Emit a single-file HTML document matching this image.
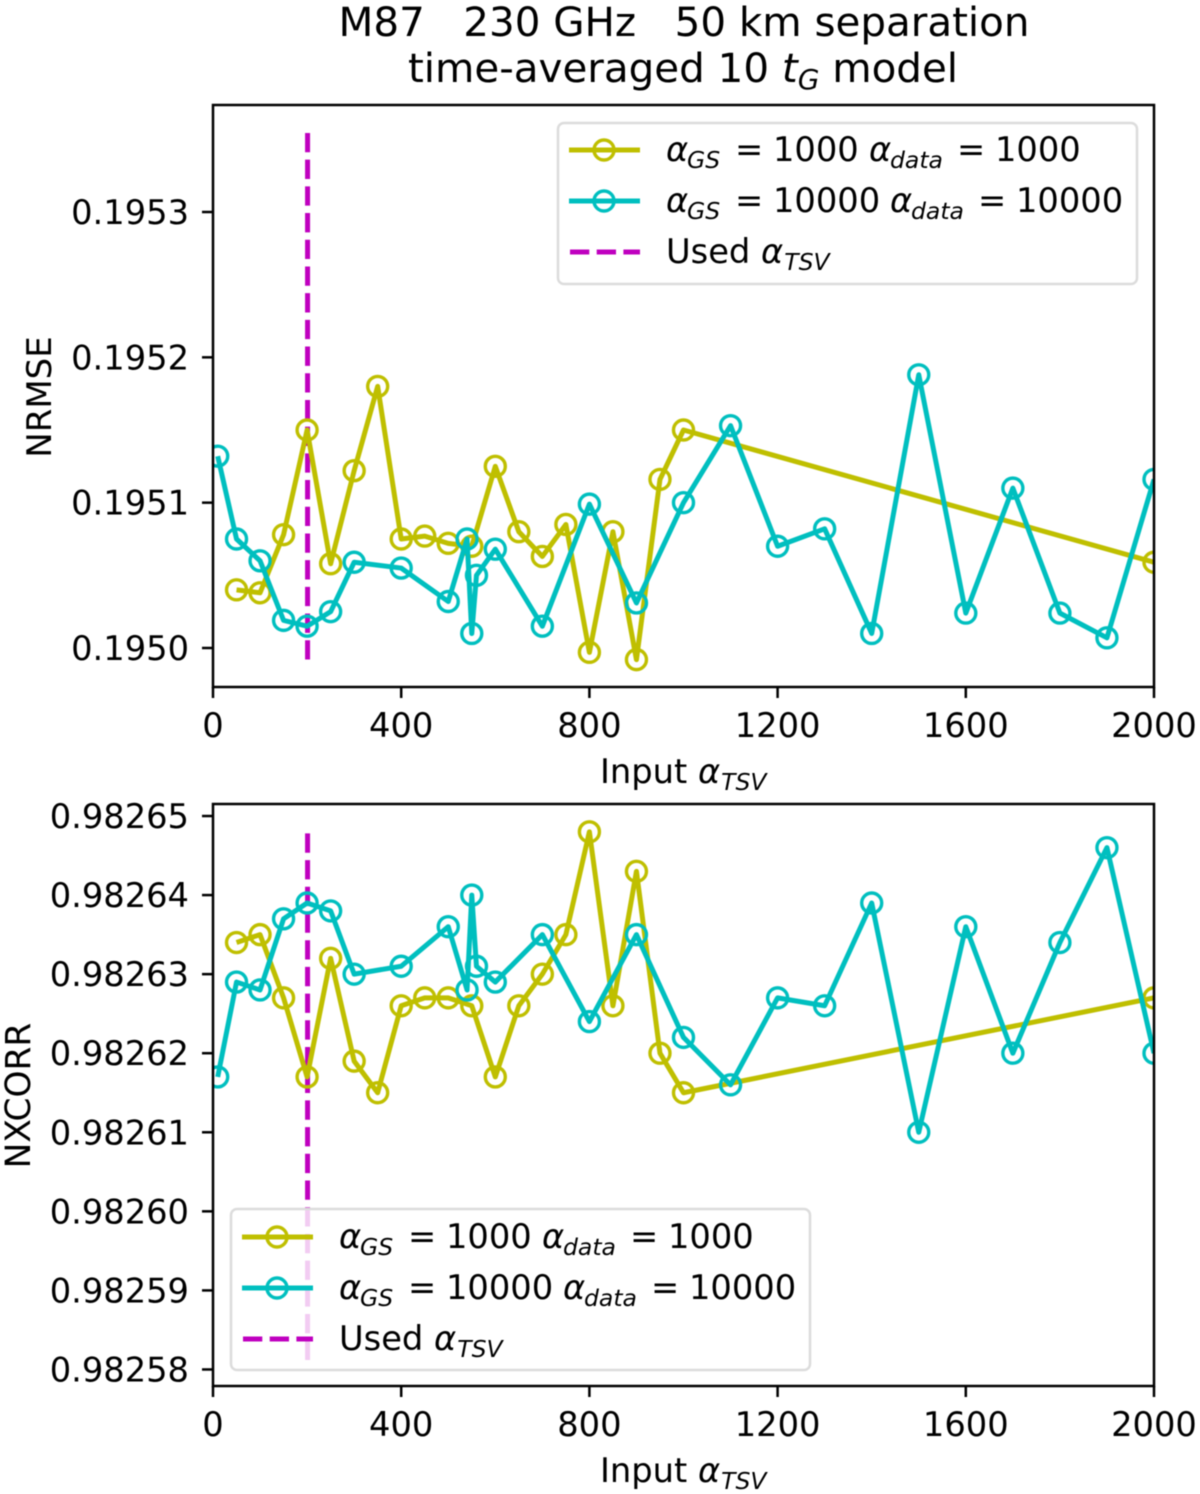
<!DOCTYPE html>
<html lang="en">
<head>
<meta charset="utf-8">
<title>M87 230 GHz time-averaged model</title>
<style>
html,body{margin:0;padding:0;background:#fff;}
svg{display:block;font-family:"DejaVu Sans",sans-serif;fill:#000;filter:blur(0.5px);}
text{white-space:pre;}
</style>
</head>
<body>
<svg id="fig" xmlns="http://www.w3.org/2000/svg" width="1200" height="1494" viewBox="0 0 1200 1494">
  <defs>
    <clipPath id="clip-top"><rect x="213" y="105" width="941" height="582"/></clipPath>
    <clipPath id="clip-bottom"><rect x="213" y="804" width="941" height="582"/></clipPath>
  </defs>
  <rect x="0" y="0" width="1200" height="1494" fill="#fff"/>
  <g font-size="40.4" text-anchor="middle">
    <text x="684" y="36">M87   230 GHz   50 km separation</text>
    <text x="683" y="82">time-averaged 10 <tspan font-style="italic">t</tspan><tspan font-style="italic" font-size="28" dy="7">G</tspan><tspan dy="-7"> model</tspan></text>
  </g>
  <g id="top-panel"></g>
  <g id="bottom-panel"></g>

  <text font-size="34" text-anchor="middle" transform="translate(51,397) rotate(-90)">NRMSE</text>
  <text font-size="34.4" text-anchor="middle" transform="translate(30,1095.5) rotate(-90)">NXCORR</text>
  <text font-size="33.7" x="600" y="783">Input <tspan font-style="italic">α</tspan><tspan font-style="italic" font-size="23.5" dy="7" dx="1">TSV</tspan></text>
  <text font-size="33.7" x="600" y="1482">Input <tspan font-style="italic">α</tspan><tspan font-style="italic" font-size="23.5" dy="7" dx="1">TSV</tspan></text>

  <g font-size="33.7">
    <rect x="558" y="123" width="579" height="161" rx="6" fill="#fff" fill-opacity="0.8" stroke="#dcdcdc" stroke-width="2.5"/>
    <g>
      <line x1="569" x2="640" y1="150" y2="150" stroke="#bfbf00" stroke-width="5"/>
      <circle cx="604" cy="150" r="10" fill="none" stroke="#bfbf00" stroke-width="3.4"/>
      <text y="161"><tspan x="666" font-style="italic">α</tspan><tspan x="687" font-style="italic" font-size="23.5" dy="7">GS</tspan><tspan x="735" dy="-7">=</tspan><tspan x="773">1000</tspan><tspan x="869" font-style="italic">α</tspan><tspan x="890" font-style="italic" font-size="23.5" dy="7">data</tspan><tspan x="957" dy="-7">=</tspan><tspan x="995">1000</tspan></text>
    </g>
    <g>
      <line x1="569" x2="640" y1="201" y2="201" stroke="#00bfbf" stroke-width="5"/>
      <circle cx="604" cy="201" r="10" fill="none" stroke="#00bfbf" stroke-width="3.4"/>
      <text y="212"><tspan x="666" font-style="italic">α</tspan><tspan x="687" font-style="italic" font-size="23.5" dy="7">GS</tspan><tspan x="735" dy="-7">=</tspan><tspan x="773">10000</tspan><tspan x="890" font-style="italic">α</tspan><tspan x="911" font-style="italic" font-size="23.5" dy="7">data</tspan><tspan x="978" dy="-7">=</tspan><tspan x="1016">10000</tspan></text>
    </g>
    <g>
      <line x1="570" x2="640" y1="252" y2="252" stroke="#bf00bf" stroke-width="5" stroke-dasharray="19.3 7.4"/>
      <text y="263"><tspan x="666">Used </tspan><tspan font-style="italic">α</tspan><tspan font-style="italic" font-size="23.5" dy="7" dx="1">TSV</tspan></text>
    </g>
  </g>

  <g id="legend-bottom-holder" font-size="33.7" transform="translate(-327,1086)">
    <rect x="558" y="123" width="579" height="161" rx="6" fill="#fff" fill-opacity="0.8" stroke="#dcdcdc" stroke-width="2.5"/>
    <g>
      <line x1="569" x2="640" y1="151" y2="151" stroke="#bfbf00" stroke-width="5"/>
      <circle cx="604" cy="151" r="10" fill="none" stroke="#bfbf00" stroke-width="3.4"/>
      <text y="162"><tspan x="666" font-style="italic">α</tspan><tspan x="687" font-style="italic" font-size="23.5" dy="7">GS</tspan><tspan x="735" dy="-7">=</tspan><tspan x="773">1000</tspan><tspan x="869" font-style="italic">α</tspan><tspan x="890" font-style="italic" font-size="23.5" dy="7">data</tspan><tspan x="957" dy="-7">=</tspan><tspan x="995">1000</tspan></text>
    </g>
    <g>
      <line x1="569" x2="640" y1="202" y2="202" stroke="#00bfbf" stroke-width="5"/>
      <circle cx="604" cy="202" r="10" fill="none" stroke="#00bfbf" stroke-width="3.4"/>
      <text y="213"><tspan x="666" font-style="italic">α</tspan><tspan x="687" font-style="italic" font-size="23.5" dy="7">GS</tspan><tspan x="735" dy="-7">=</tspan><tspan x="773">10000</tspan><tspan x="890" font-style="italic">α</tspan><tspan x="911" font-style="italic" font-size="23.5" dy="7">data</tspan><tspan x="978" dy="-7">=</tspan><tspan x="1016">10000</tspan></text>
    </g>
    <g>
      <line x1="570" x2="640" y1="253" y2="253" stroke="#bf00bf" stroke-width="5" stroke-dasharray="19.3 7.4"/>
      <text y="264"><tspan x="666">Used </tspan><tspan font-style="italic">α</tspan><tspan font-style="italic" font-size="23.5" dy="7" dx="1">TSV</tspan></text>
    </g>
  </g>
</svg>
<script>
var xLowAlpha = [50,100,150,200,250,300,350,400,450,500,550,600,650,700,750,800,850,900,950,1000,2000];
var xHighAlpha = [10,50,100,150,200,250,300,400,500,540,550,560,600,700,800,900,1000,1100,1200,1300,1400,1500,1600,1700,1800,1900,2000];
var nrmseLowAlpha = [0.19504,0.195038,0.195078,0.19515,0.195058,0.195122,0.19518,0.195075,0.195077,0.195072,0.19507,0.195125,0.19508,0.195063,0.195085,0.194997,0.19508,0.194992,0.195116,0.19515,0.195059];
var nrmseHighAlpha = [0.195132,0.195075,0.19506,0.195019,0.195015,0.195025,0.195059,0.195055,0.195032,0.195075,0.19501,0.19505,0.195068,0.195015,0.195099,0.195031,0.1951,0.195153,0.19507,0.195082,0.19501,0.195188,0.195024,0.19511,0.195024,0.195007,0.195116];
var nxcorrLowAlpha = [0.982634,0.982635,0.982627,0.982617,0.982632,0.982619,0.982615,0.982626,0.982627,0.982627,0.982626,0.982617,0.982626,0.98263,0.982635,0.982648,0.982626,0.982643,0.98262,0.982615,0.982627];
var nxcorrHighAlpha = [0.982617,0.982629,0.982628,0.982637,0.982639,0.982638,0.98263,0.982631,0.982636,0.982628,0.98264,0.982631,0.982629,0.982635,0.982624,0.982635,0.982622,0.982616,0.982627,0.982626,0.982639,0.98261,0.982636,0.98262,0.982634,0.982646,0.98262];
var xTicks = [0,400,800,1200,1600,2000];
var nrmseTicks = ["0.1950","0.1951","0.1952","0.1953"];
var nxcorrTicks = ["0.98258","0.98259","0.98260","0.98261","0.98262","0.98263","0.98264","0.98265"];
var usedAlpha = [201];
var nrmseUsedRange = [0.1949904,0.1953544];
var nxcorrUsedRange = [0.9825812,0.9826478];
var xLimits = [0,2000];
var nrmseLimits = [0.19497316,0.19537363];
var nxcorrLimits = [0.98257791,0.98265152];

var NS = 'http://www.w3.org/2000/svg';
var AXIS_LEFT = 213, AXIS_WIDTH = 941, AXIS_HEIGHT = 582;
var YELLOW = '#bfbf00', CYAN = '#00bfbf', MAGENTA = '#bf00bf';

function make(tag, parent, attrs) {
  var el = document.createElementNS(NS, tag);
  for (var k in attrs) { el.setAttribute(k, attrs[k]); }
  parent.appendChild(el);
  return el;
}
function xScale(v) {
  return AXIS_LEFT + (v - xLimits[0]) / (xLimits[1] - xLimits[0]) * AXIS_WIDTH;
}
function yScaleFor(limits, top) {
  return function (v) {
    return top + AXIS_HEIGHT - (v - limits[0]) / (limits[1] - limits[0]) * AXIS_HEIGHT;
  };
}
function drawSeries(parent, xs, ys, yScale, color, seriesName) {
  var group = make('g', parent, {});
  
  
  var pts = xs.map(function (x, i) { return xScale(x).toFixed(2) + ',' + yScale(ys[i]).toFixed(2); }).join(' ');
  var line = make('polyline', group, {points: pts, fill: 'none', stroke: color, 'stroke-width': 5, 'stroke-linejoin': 'round'});
  
  
  xs.forEach(function (x, i) {
    var c = make('circle', group, {cx: xScale(x).toFixed(2), cy: yScale(ys[i]).toFixed(2), r: 10, fill: 'none', stroke: color, 'stroke-width': 3.4});
    
    
  });
}
function drawPanel(panelId, top, clipId, limits, yTicks, lowVals, highVals, usedRange) {
  var panel = document.getElementById(panelId);
  var yScale = yScaleFor(limits, top);
  var bottom = top + AXIS_HEIGHT;
  var plot = make('g', panel, {'clip-path': 'url(#' + clipId + ')'});
  
  

  var used = make('line', plot, {x1: xScale(usedAlpha[0]), x2: xScale(usedAlpha[0]), y1: yScale(usedRange[1]), y2: yScale(usedRange[0]), stroke: MAGENTA, 'stroke-width': 5, 'stroke-dasharray': '19.3 7.4'});
  
  

  drawSeries(plot, xLowAlpha, lowVals, yScale, YELLOW, 'series-alpha-1000');
  drawSeries(plot, xHighAlpha, highVals, yScale, CYAN, 'series-alpha-10000');

  var frame = make('rect', panel, {x: AXIS_LEFT, y: top, width: AXIS_WIDTH, height: AXIS_HEIGHT, fill: 'none', stroke: '#000', 'stroke-width': 2.5});
  
  

  xTicks.forEach(function (t) {
    var tick = make('line', panel, {x1: xScale(t), x2: xScale(t), y1: bottom, y2: bottom + 11, stroke: '#000', 'stroke-width': 2.5});
    
    
    var label = make('text', panel, {x: xScale(t), y: bottom + 50, 'font-size': 33.7, 'text-anchor': 'middle'});
    label.textContent = String(t);
    
    
  });
  yTicks.forEach(function (t) {
    var y = yScale(parseFloat(t));
    var tick = make('line', panel, {x1: AXIS_LEFT - 11, x2: AXIS_LEFT, y1: y, y2: y, stroke: '#000', 'stroke-width': 2.5});
    
    
    var label = make('text', panel, {x: AXIS_LEFT - 24, y: y + 12, 'font-size': 33.7, 'text-anchor': 'end'});
    label.textContent = t;
    
    
  });
}
drawPanel('top-panel', 105, 'clip-top', nrmseLimits, nrmseTicks, nrmseLowAlpha, nrmseHighAlpha, nrmseUsedRange);
drawPanel('bottom-panel', 804, 'clip-bottom', nxcorrLimits, nxcorrTicks, nxcorrLowAlpha, nxcorrHighAlpha, nxcorrUsedRange);
</script>
</body>
</html>
